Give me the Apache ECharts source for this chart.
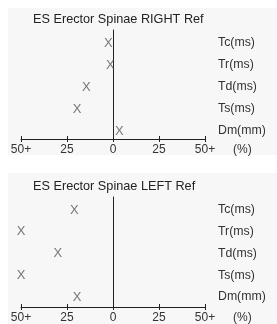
<!DOCTYPE html>
<html>
<head>
<meta charset="utf-8">
<script src="https://cdn.jsdelivr.net/npm/echarts@6/dist/echarts.min.js"></script>
<style>
  html, body { margin: 0; padding: 0; background: #fff; }
  #chart { width: 277px; height: 324px; }
</style>
</head>
<body>
<div id="chart"></div>
<script>
// categories, bottom to top
var params = ['Dm(mm)', 'Ts(ms)', 'Td(ms)', 'Tr(ms)', 'Tc(ms)'];
// deviation from reference in %, negative = left side
var rightRef = [3.5, -19.5, -14.5, -1.5, -2.5];
var leftRef = [-19.5, -50, -30, -50, -21];
var xTicks = [-50, -25, 0, 25, 50];

var font = 'Liberation Sans, Arial, sans-serif';
var txt = '#333';

var chart = echarts.init(document.getElementById('chart'));

function tickLabel(v) {
    var a = Math.abs(v);
    return a === 50 ? '50+' : String(a);
}

// one panel = main grid (marks + labels) and a line grid (the zero line)
function panel(idx, y0, title, values) {
    var g = idx * 2;
    return {
        title: {
            text: title, left: 33, top: y0 + 13, padding: 0,
            textStyle: {fontFamily: font, fontSize: 12.7, fontWeight: 'normal', color: '#222'}
        },
        grids: [
            {left: 21, width: 184, top: y0 + 43, height: idx ? 87 : 88},
            {left: 21, width: 184, top: y0 + 30, height: idx ? 110 : 109}
        ],
        xAxes: [
            {
                gridIndex: g, type: 'value', min: -50, max: 50, interval: 25,
                offset: idx ? 10 : 8,
                name: '(%)', nameLocation: 'end', nameGap: 28,
                nameTextStyle: {fontFamily: font, fontSize: 12, color: txt, verticalAlign: 'top', padding: [5, 0, 0, 0]},
                axisLine: {show: true, lineStyle: {color: '#222', width: 1}},
                axisTick: {show: true, length: 3, lineStyle: {color: '#222'}},
                axisLabel: {margin: 5, fontFamily: font, fontSize: 12, color: txt, formatter: tickLabel, showMinLabel: true, showMaxLabel: true},
                splitLine: {show: false}
            },
            {
                gridIndex: g, type: 'value', min: -50, max: 50, interval: 25, position: 'bottom',
                offset: idx ? 10 : 8,
                axisLine: {show: false},
                axisTick: {show: true, inside: true, length: 3, lineStyle: {color: '#222'}},
                axisLabel: {show: false},
                splitLine: {show: false}
            },
            {
                gridIndex: g + 1, type: 'value', min: -50, max: 50, show: false
            }
        ],
        yAxes: [
            {
                gridIndex: g, type: 'category', data: params, boundaryGap: false, position: 'right',
                axisLine: {show: false}, axisTick: {show: false},
                axisLabel: {margin: 13, fontFamily: font, fontSize: 12.3, color: txt},
                splitLine: {show: false}
            },
            {
                gridIndex: g + 1, type: 'value', min: 0, max: 1,
                axisLine: {show: true, onZero: true, lineStyle: {color: '#222', width: 1}},
                axisTick: {show: false}, axisLabel: {show: false}, splitLine: {show: false}
            }
        ],
        series: {
            type: 'scatter',
            xAxisIndex: idx * 3, yAxisIndex: idx * 2,
            symbol: 'circle', symbolSize: 1,
            itemStyle: {color: 'transparent'},
            label: {show: true, position: 'inside', formatter: 'X', fontFamily: font, fontSize: 13, color: '#555'},
            data: values.map(function (v, i) { return [v, params[i]]; })
        }
    };
}

var topPanel = panel(0, 0, 'ES Erector Spinae RIGHT Ref', rightRef);
var botPanel = panel(1, 167, 'ES Erector Spinae LEFT Ref', leftRef);

var option = {
    backgroundColor: '#fff',
    animation: false,
    graphic: [
        {type: 'rect', shape: {x: 8, y: 8, width: 269, height: 147}, style: {fill: '#f7f7f7'}, z: -10},
        {type: 'rect', shape: {x: 8, y: 173, width: 269, height: 151}, style: {fill: '#f7f7f7'}, z: -10}
    ],
    title: [topPanel.title, botPanel.title],
    grid: topPanel.grids.concat(botPanel.grids),
    xAxis: topPanel.xAxes.concat(botPanel.xAxes),
    yAxis: topPanel.yAxes.concat(botPanel.yAxes),
    series: [topPanel.series, botPanel.series]
};
chart.setOption(option);
</script>
</body>
</html>
